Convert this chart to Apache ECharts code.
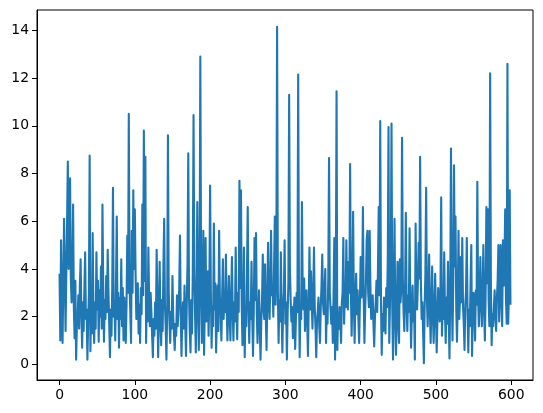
<!DOCTYPE html>
<html>
<head>
<meta charset="utf-8">
<script src="https://cdn.jsdelivr.net/npm/echarts@6/dist/echarts.min.js"></script>
<style>
html,body{margin:0;padding:0;background:#fff;}
#chart{width:543px;height:413px;}
</style>
</head>
<body>
<div id="chart"></div>
<script>
// Series values (index 0..599)
const values = [
3.8,1.0,5.2,3.0,0.9,3.4,6.1,3.8,1.4,3.9,
5.9,8.5,4.0,5.6,7.8,3.6,2.6,3.5,6.7,2.4,
1.1,3.5,0.2,1.6,2.0,2.9,1.5,3.3,4.4,2.1,
0.7,2.6,1.4,3.2,4.7,1.9,2.3,0.2,1.7,3.0,
8.75,0.55,2.4,1.3,5.5,2.2,0.9,2.6,1.5,4.7,
2.3,3.5,0.95,3.1,2.0,4.1,1.5,6.7,3.3,0.95,
2.7,1.9,3.7,2.2,4.8,3.0,1.7,0.3,2.3,1.2,
3.2,7.4,2.0,2.5,1.0,3.4,6.2,1.9,3.0,0.7,
2.8,1.9,4.4,1.6,3.2,1.0,2.8,2.0,0.9,2.5,
5.4,3.0,10.5,3.3,2.2,0.9,5.6,3.0,7.3,4.0,
6.5,3.8,1.9,2.3,3.4,1.3,2.5,0.9,3.2,2.1,
6.7,2.9,9.8,3.5,8.7,0.9,3.2,1.8,4.9,2.7,
1.6,3.0,2.2,1.2,0.3,1.9,1.2,2.6,1.5,4.8,
2.4,0.3,2.0,4.3,1.9,0.8,2.7,1.4,4.1,6.1,
2.5,1.6,0.2,2.4,9.6,3.1,1.8,0.9,2.2,1.5,
3.7,2.0,1.3,0.6,1.7,1.2,2.9,1.6,2.3,3.2,
5.4,2.1,0.35,1.9,2.6,1.5,3.3,1.7,0.35,2.5,
4.2,8.85,2.8,1.4,0.5,2.7,1.3,3.9,10.45,4.0,
2.1,0.5,2.9,6.8,2.4,0.6,3.1,12.9,4.2,0.9,
2.8,5.6,0.4,2.6,5.3,1.8,2.5,3.9,1.2,3.1,
7.5,3.0,0.7,2.4,1.6,5.9,2.3,3.4,0.5,2.0,
3.3,1.4,5.6,2.8,2.1,1.0,2.9,4.4,1.9,3.0,
2.2,4.6,2.5,1.0,2.2,3.7,2.0,1.0,2.7,4.5,
2.3,1.0,2.6,1.8,4.9,2.4,1.05,3.0,2.2,7.7,
3.2,7.3,2.5,0.8,2.1,4.9,0.3,2.3,1.6,3.9,
6.6,2.4,0.9,2.6,1.9,4.3,2.0,0.35,2.2,5.3,
2.7,5.5,2.2,0.9,2.0,3.1,1.6,0.2,1.8,2.7,
4.6,2.3,1.9,4.2,2.0,0.6,2.8,5.1,2.6,1.9,
3.4,5.6,2.9,3.3,2.0,4.1,6.2,2.5,4.4,14.15,
3.1,0.9,2.7,1.8,4.7,2.2,0.5,2.4,3.0,5.2,
1.7,2.6,0.2,2.1,3.4,11.3,4.1,2.7,1.8,2.4,
1.1,2.0,2.8,0.65,1.9,3.0,2.2,12.15,3.4,0.3,
2.5,1.9,6.8,3.1,2.3,3.6,1.4,2.2,3.1,1.8,
0.35,2.5,4.9,2.3,3.9,2.6,1.5,2.9,4.9,2.4,
1.6,0.3,1.8,2.2,2.8,1.6,0.9,2.4,3.3,4.6,
2.6,2.1,3.0,4.0,0.9,2.2,1.7,3.6,8.65,3.0,
2.3,1.7,2.4,0.9,2.9,5.3,0.2,3.3,11.45,0.6,
2.1,1.5,2.4,1.8,0.9,2.6,3.0,5.3,1.7,3.0,
2.4,5.2,2.8,2.3,4.3,3.0,8.4,3.1,1.2,2.9,
6.4,2.5,0.9,2.7,3.8,2.1,3.1,1.9,0.9,2.6,
4.5,2.8,3.3,6.6,2.9,0.9,2.3,3.4,5.2,5.6,
3.0,2.4,5.6,3.2,1.9,2.5,2.9,1.7,0.75,2.0,
2.6,3.5,2.2,4.0,6.6,2.9,10.2,2.7,0.4,2.1,
1.4,2.8,1.9,1.3,3.2,2.4,4.3,9.95,0.9,2.6,
4.0,10.1,2.4,0.2,2.9,6.1,2.0,0.4,2.3,4.3,
1.8,0.9,4.4,2.6,3.2,9.5,3.7,2.2,1.4,3.0,
6.35,2.6,1.4,2.9,2.2,5.7,2.5,0.7,2.1,3.3,
1.8,2.4,0.2,5.9,3.0,2.3,3.4,5.1,3.6,8.7,
3.5,1.9,2.6,1.3,0.05,2.4,3.8,7.4,2.8,1.6,
2.9,4.6,2.2,0.9,2.5,4.1,2.0,0.9,2.3,3.8,
2.1,0.5,1.9,3.2,2.6,1.8,3.0,7.0,1.2,2.5,
1.9,4.7,2.2,0.9,2.8,1.7,4.3,2.0,0.25,2.9,
9.05,3.2,1.0,3.4,8.35,4.1,6.2,2.3,0.95,2.7,
5.6,1.9,2.8,4.5,2.6,5.3,2.4,1.7,0.6,2.5,
3.1,5.3,2.2,0.5,2.3,1.6,3.4,5.0,0.35,2.1,
3.0,2.4,1.0,3.1,2.5,7.65,2.9,1.6,2.6,4.5,
2.7,1.6,2.9,5.0,2.3,1.0,2.9,6.6,3.4,6.5,
2.7,1.6,12.2,3.5,0.8,2.1,1.6,2.4,3.1,2.0,
1.4,2.8,3.5,5.0,1.8,3.3,5.0,2.6,1.6,5.2,
3.3,4.1,6.5,2.8,1.7,12.6,1.7,3.0,7.3,2.5
];
// Tick labels
const xTicks = [0, 100, 200, 300, 400, 500, 600];
const yTicks = [0, 2, 4, 6, 8, 10, 12, 14];

const seriesData = values.map((v, i) => [i, v]);
const n = values.length;
const xPad = (n - 1) * 0.05;
const vMin = Math.min(...values), vMax = Math.max(...values);
const yPad = (vMax - vMin) * 0.05;

const chart = echarts.init(document.getElementById('chart'), null, {renderer: 'canvas'});
const axisCommon = {
  axisLine: {show: true, onZero: false, lineStyle: {color: '#000', width: 1}},
  axisTick: {show: true, inside: false, length: 5, lineStyle: {color: '#000', width: 1}},
  splitLine: {show: false},
  axisLabel: {color: '#000', fontFamily: 'DejaVu Sans', fontSize: 13.9, margin: 8}
};
chart.setOption({
  animation: false,
  backgroundColor: '#fff',
  grid: {left: 37, right: 10, top: 10, bottom: 33, show: true, borderColor: '#000', borderWidth: 1, containLabel: false},
  xAxis: Object.assign({}, axisCommon, {
    type: 'value', min: -xPad, max: n - 1 + xPad,
    axisTick: Object.assign({}, axisCommon.axisTick, {customValues: xTicks}),
    axisLabel: Object.assign({}, axisCommon.axisLabel, {customValues: xTicks})
  }),
  yAxis: Object.assign({}, axisCommon, {
    type: 'value', min: vMin - yPad, max: vMax + yPad,
    axisTick: Object.assign({}, axisCommon.axisTick, {customValues: yTicks}),
    axisLabel: Object.assign({}, axisCommon.axisLabel, {customValues: yTicks})
  }),
  series: [{
    type: 'line', data: seriesData, showSymbol: false, symbol: 'none',
    sampling: null,
    lineStyle: {color: '#1f77b4', width: 2.1, join: 'round'},
    emphasis: {disabled: true}
  }]
});
</script>
</body>
</html>
